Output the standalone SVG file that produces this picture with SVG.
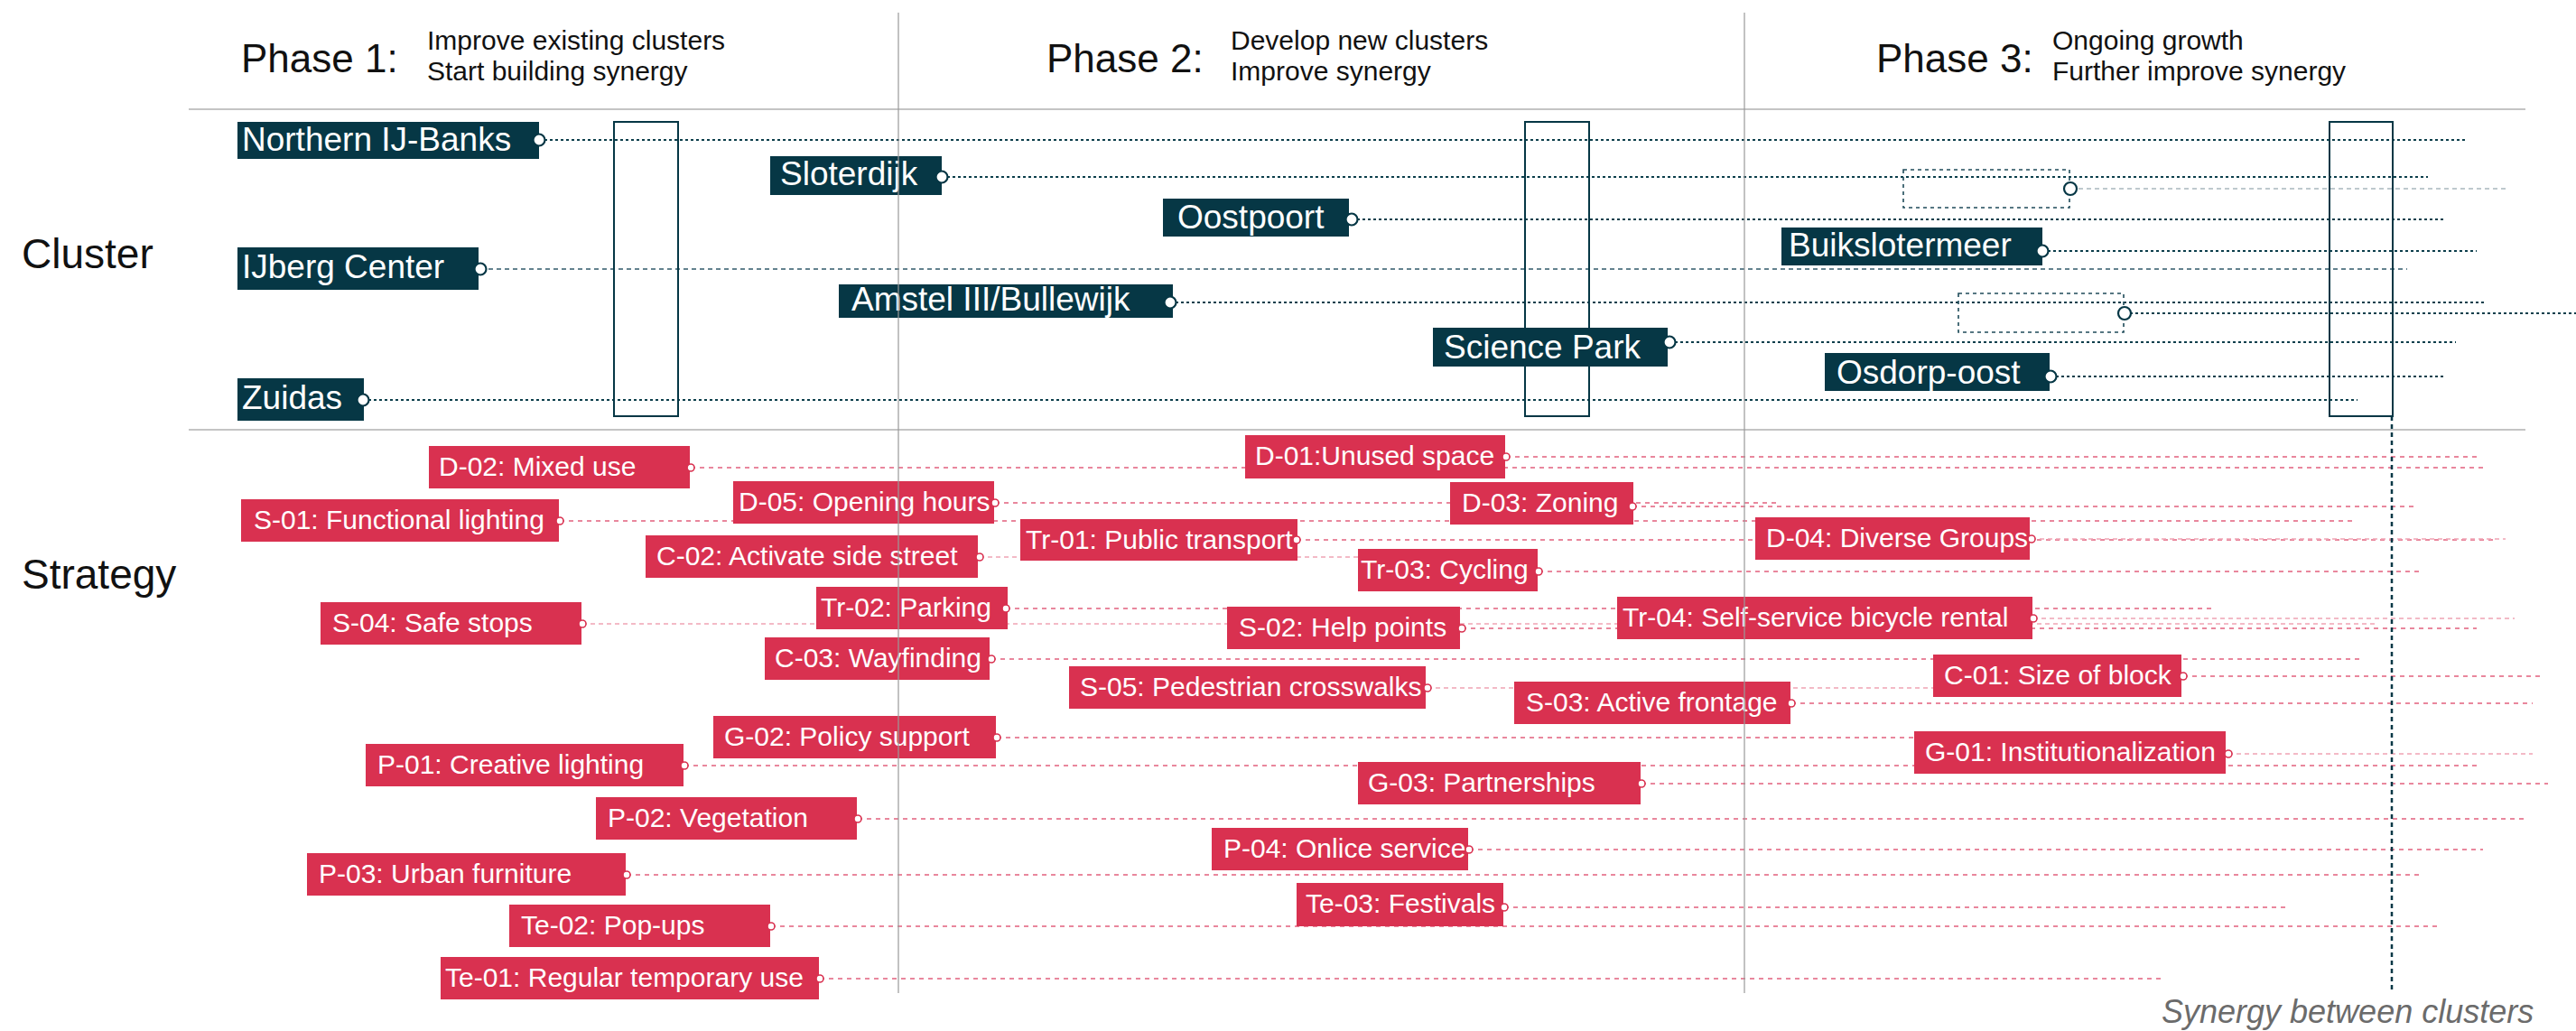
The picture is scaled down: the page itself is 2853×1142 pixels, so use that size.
<svg xmlns="http://www.w3.org/2000/svg" width="2853" height="1142" viewBox="0 0 2853 1142">
  <style>
    text { font-family: "Liberation Sans", Arial, sans-serif; }
    .bg { fill: #ffffff; }
    .rule { stroke: #c4c4c4; stroke-width: 2; }
    .divider { stroke: #9a9a9a; stroke-width: 1.5; opacity: 0.8; }
    .phase { font-size: 44px; fill: #111; }
    .sub { font-size: 30px; fill: #111; }
    .axis { font-size: 46px; fill: #111; }
    .note { font-size: 36px; font-style: italic; fill: #6b6b6b; }
    .cl rect { fill: #063745; }
    .cl text { fill: #ffffff; font-size: 37px; }
    .st rect { fill: #d93150; }
    .st text { fill: #ffffff; font-size: 30px; }
    .pc { fill: #ffffff; stroke: #063745; stroke-width: 2.2; }
    .ps { fill: #ffffff; stroke: #d93150; stroke-width: 1.6; }
    .lc { stroke: #0d3f4c; stroke-width: 2; stroke-dasharray: 3 3; fill: none; }
    .lc2 { stroke: #31596a; stroke-width: 1.5; stroke-dasharray: 5 4; fill: none; }
    .lc3 { stroke: #a9b8bd; stroke-width: 1.5; stroke-dasharray: 5 4; fill: none; }
    .ls { stroke: #e2607d; stroke-width: 1.5; stroke-dasharray: 5 5; fill: none; }
    .ls2 { stroke: #f0a4b4; stroke-width: 1.5; stroke-dasharray: 5 4; fill: none; }
    .syn { fill: none; stroke: #063745; stroke-width: 2; }
    .ghost { fill: none; stroke: #1f4b59; stroke-width: 1.6; stroke-dasharray: 4 4; }
    .synline { stroke: #063745; stroke-width: 2.5; stroke-dasharray: 5 4; }
  </style>

  <rect class="bg" x="0" y="0" width="2853" height="1142"/>

  <!-- header -->
  <g id="header">
    <text class="phase" x="267" y="80">Phase 1:</text>
    <text class="sub" x="473" y="55">Improve existing clusters</text>
    <text class="sub" x="473" y="89">Start building synergy</text>
    <text class="phase" x="1159" y="80">Phase 2:</text>
    <text class="sub" x="1363" y="55">Develop new clusters</text>
    <text class="sub" x="1363" y="89">Improve synergy</text>
    <text class="phase" x="2078" y="80">Phase 3:</text>
    <text class="sub" x="2273" y="55">Ongoing growth</text>
    <text class="sub" x="2273" y="89">Further improve synergy</text>
  </g>

  <g id="rows">
    <line class="rule" x1="209" y1="121" x2="2797" y2="121"/>
    <line class="rule" x1="209" y1="476" x2="2797" y2="476"/>
    <text class="axis" x="24" y="297">Cluster</text>
    <text class="axis" x="24" y="652">Strategy</text>
  </g>

  <!-- connectors: cluster and strategy timelines -->
  <g id="connectors">
    <line class="lc" x1="597" y1="155" x2="2733" y2="155"/>
    <line class="lc2" x1="532" y1="298" x2="2666" y2="298"/>
    <line class="lc" x1="402" y1="443" x2="2611" y2="443"/>
    <line class="lc" x1="1043" y1="196" x2="2689" y2="196"/>
    <line class="lc" x1="1497" y1="243" x2="2706" y2="243"/>
    <line class="lc" x1="1296" y1="335" x2="2753" y2="335"/>
    <line class="lc" x1="1849" y1="379" x2="2720" y2="379"/>
    <line class="lc" x1="2262" y1="278" x2="2743" y2="278"/>
    <line class="lc" x1="2271" y1="417" x2="2706" y2="417"/>
    <line class="lc3" x1="2293" y1="209" x2="2778" y2="209"/>
    <line class="lc" x1="2353" y1="347" x2="2853" y2="347"/>

    <line class="ls" x1="765" y1="518" x2="2754" y2="518"/>
    <line class="ls" x1="620" y1="577" x2="2609" y2="577"/>
    <line class="ls2" x1="645" y1="691" x2="2633" y2="691"/>
    <line class="ls" x1="758" y1="848" x2="2748" y2="848"/>
    <line class="ls" x1="950" y1="907" x2="2797" y2="907"/>
    <line class="ls" x1="694" y1="969" x2="2684" y2="969"/>
    <line class="ls" x1="854" y1="1026" x2="2701" y2="1026"/>
    <line class="ls" x1="908" y1="1084" x2="2398" y2="1084"/>
    <line class="ls" x1="1102" y1="557" x2="1969" y2="557"/>
    <line class="ls2" x1="1085" y1="617" x2="1600" y2="617"/>
    <line class="ls" x1="1114" y1="674" x2="2452" y2="674"/>
    <line class="ls" x1="1098" y1="730" x2="2615" y2="730"/>
    <line class="ls" x1="1104" y1="817" x2="2200" y2="817"/>
    <line class="ls" x1="1668" y1="506" x2="2744" y2="506"/>
    <line class="ls" x1="1808" y1="561" x2="2675" y2="561"/>
    <line class="ls" x1="1436" y1="598" x2="2763" y2="598"/>
    <line class="ls" x1="1704" y1="633" x2="2683" y2="633"/>
    <line class="ls" x1="1619" y1="696" x2="2743" y2="696"/>
    <line class="ls2" x1="1581" y1="762" x2="2250" y2="762"/>
    <line class="ls" x1="1984" y1="779" x2="2805" y2="779"/>
    <line class="ls" x1="1818" y1="868" x2="2822" y2="868"/>
    <line class="ls" x1="1627" y1="941" x2="2750" y2="941"/>
    <line class="ls" x1="1666" y1="1005" x2="2534" y2="1005"/>
    <line class="ls2" x1="2250" y1="597" x2="2775" y2="597"/>
    <line class="ls2" x1="2252" y1="685" x2="2785" y2="685"/>
    <line class="ls" x1="2418" y1="749" x2="2813" y2="749"/>
    <line class="ls2" x1="2468" y1="835" x2="2805" y2="835"/>

    <line class="synline" x1="2649" y1="461" x2="2649" y2="1097"/>
  </g>

  <!-- synergy windows per phase -->
  <g id="synergy">
    <rect class="syn" x="680" y="135" width="71" height="326"/>
    <rect class="syn" x="1689" y="135" width="71" height="326"/>
    <rect class="syn" x="2580" y="135" width="70" height="326"/>
  </g>

  <!-- clusters -->
  <g id="northern-ij-banks" class="cl">
    <rect x="263" y="135" width="334" height="41"/>
    <text x="268" y="167">Northern IJ-Banks</text>
    <circle class="pc" cx="597" cy="155" r="6.5"/>
  </g>
  <g id="ijberg-center" class="cl">
    <rect x="263" y="274" width="267" height="47"/>
    <text x="268" y="308">IJberg Center</text>
    <circle class="pc" cx="532" cy="298" r="6.5"/>
  </g>
  <g id="zuidas" class="cl">
    <rect x="263" y="419" width="140" height="47"/>
    <text x="268" y="453">Zuidas</text>
    <circle class="pc" cx="402" cy="443" r="6.5"/>
  </g>
  <g id="sloterdijk" class="cl">
    <rect x="853" y="173" width="190" height="43"/>
    <text x="864" y="205">Sloterdijk</text>
    <circle class="pc" cx="1043" cy="196" r="6.5"/>
  </g>
  <g id="oostpoort" class="cl">
    <rect x="1288" y="220" width="206" height="42"/>
    <text x="1304" y="253">Oostpoort</text>
    <circle class="pc" cx="1497" cy="243" r="6.5"/>
  </g>
  <g id="amstel-iii-bullewijk" class="cl">
    <rect x="929" y="315" width="370" height="37"/>
    <text x="943" y="344">Amstel III/Bullewijk</text>
    <circle class="pc" cx="1296" cy="335" r="6.5"/>
  </g>
  <g id="science-park" class="cl">
    <rect x="1587" y="363" width="260" height="43"/>
    <text x="1599" y="397">Science Park</text>
    <circle class="pc" cx="1849" cy="379" r="6.5"/>
  </g>
  <g id="buikslotermeer" class="cl">
    <rect x="1973" y="252" width="289" height="42"/>
    <text x="1981" y="284">Buikslotermeer</text>
    <circle class="pc" cx="2262" cy="278" r="6.5"/>
  </g>
  <g id="osdorp-oost" class="cl">
    <rect x="2021" y="391" width="249" height="42"/>
    <text x="2034" y="425">Osdorp-oost</text>
    <circle class="pc" cx="2271" cy="417" r="6.5"/>
  </g>
  <g id="future-cluster-a">
    <rect class="ghost" x="2108" y="188" width="184" height="42"/>
    <circle class="pc" cx="2293" cy="209" r="7"/>
  </g>
  <g id="future-cluster-b">
    <rect class="ghost" x="2169" y="325" width="183" height="43"/>
    <circle class="pc" cx="2353" cy="347" r="7"/>
  </g>

  <!-- strategies -->
  <g id="d-02" class="st"><rect x="475" y="494" width="289" height="47"/><text x="486" y="527">D-02: Mixed use</text><circle class="ps" cx="765" cy="518" r="4"/></g>
  <g id="s-01" class="st"><rect x="267" y="553" width="352" height="47"/><text x="281" y="586">S-01: Functional lighting</text><circle class="ps" cx="620" cy="577" r="4"/></g>
  <g id="s-04" class="st"><rect x="355" y="667" width="289" height="47"/><text x="368" y="700">S-04: Safe stops</text><circle class="ps" cx="645" cy="691" r="4"/></g>
  <g id="p-01" class="st"><rect x="405" y="824" width="352" height="47"/><text x="418" y="857">P-01: Creative lighting</text><circle class="ps" cx="758" cy="848" r="4"/></g>
  <g id="p-02" class="st"><rect x="660" y="883" width="289" height="47"/><text x="673" y="916">P-02: Vegetation</text><circle class="ps" cx="950" cy="907" r="4"/></g>
  <g id="p-03" class="st"><rect x="340" y="945" width="353" height="47"/><text x="353" y="978">P-03: Urban furniture</text><circle class="ps" cx="694" cy="969" r="4"/></g>
  <g id="te-02" class="st"><rect x="564" y="1002" width="289" height="47"/><text x="577" y="1035">Te-02: Pop-ups</text><circle class="ps" cx="854" cy="1026" r="4"/></g>
  <g id="te-01" class="st"><rect x="488" y="1060" width="419" height="47"/><text x="493" y="1093">Te-01: Regular temporary use</text><circle class="ps" cx="908" cy="1084" r="4"/></g>
  <g id="d-05" class="st"><rect x="812" y="533" width="289" height="47"/><text x="818" y="566">D-05: Opening hours</text><circle class="ps" cx="1102" cy="557" r="4"/></g>
  <g id="c-02" class="st"><rect x="715" y="593" width="368" height="47"/><text x="727" y="626">C-02: Activate side street</text><circle class="ps" cx="1085" cy="617" r="4"/></g>
  <g id="tr-02" class="st"><rect x="904" y="650" width="212" height="47"/><text x="909" y="683">Tr-02: Parking</text><circle class="ps" cx="1114" cy="674" r="4"/></g>
  <g id="c-03" class="st"><rect x="847" y="706" width="249" height="47"/><text x="858" y="739">C-03: Wayfinding</text><circle class="ps" cx="1098" cy="730" r="4"/></g>
  <g id="g-02" class="st"><rect x="790" y="793" width="313" height="47"/><text x="802" y="826">G-02: Policy support</text><circle class="ps" cx="1104" cy="817" r="4"/></g>
  <g id="d-01" class="st"><rect x="1379" y="482" width="288" height="48"/><text x="1390" y="515">D-01:Unused space</text><circle class="ps" cx="1668" cy="506" r="4"/></g>
  <g id="d-03" class="st"><rect x="1606" y="534" width="203" height="47"/><text x="1619" y="567">D-03: Zoning</text><circle class="ps" cx="1808" cy="561" r="4"/></g>
  <g id="tr-01" class="st"><rect x="1130" y="575" width="307" height="46"/><text x="1136" y="608">Tr-01: Public transport</text><circle class="ps" cx="1436" cy="598" r="4"/></g>
  <g id="tr-03" class="st"><rect x="1504" y="608" width="199" height="47"/><text x="1507" y="641">Tr-03: Cycling</text><circle class="ps" cx="1704" cy="633" r="4"/></g>
  <g id="s-02" class="st"><rect x="1359" y="672" width="258" height="47"/><text x="1372" y="705">S-02: Help points</text><circle class="ps" cx="1619" cy="696" r="4"/></g>
  <g id="s-05" class="st"><rect x="1184" y="738" width="395" height="47"/><text x="1196" y="771">S-05: Pedestrian crosswalks</text><circle class="ps" cx="1581" cy="762" r="4"/></g>
  <g id="s-03" class="st"><rect x="1677" y="755" width="306" height="47"/><text x="1690" y="788">S-03: Active frontage</text><circle class="ps" cx="1984" cy="779" r="4"/></g>
  <g id="g-03" class="st"><rect x="1504" y="844" width="313" height="47"/><text x="1515" y="877">G-03: Partnerships</text><circle class="ps" cx="1818" cy="868" r="4"/></g>
  <g id="p-04" class="st"><rect x="1342" y="917" width="284" height="47"/><text x="1355" y="950">P-04: Onlice service</text><circle class="ps" cx="1627" cy="941" r="4"/></g>
  <g id="te-03" class="st"><rect x="1436" y="978" width="229" height="48"/><text x="1446" y="1011">Te-03: Festivals</text><circle class="ps" cx="1666" cy="1005" r="4"/></g>
  <g id="d-04" class="st"><rect x="1944" y="573" width="304" height="47"/><text x="1956" y="606">D-04: Diverse Groups</text><circle class="ps" cx="2250" cy="597" r="4"/></g>
  <g id="tr-04" class="st"><rect x="1791" y="661" width="460" height="47"/><text x="1797" y="694">Tr-04: Self-service bicycle rental</text><circle class="ps" cx="2252" cy="685" r="4"/></g>
  <g id="c-01" class="st"><rect x="2141" y="725" width="275" height="47"/><text x="2153" y="758">C-01: Size of block</text><circle class="ps" cx="2418" cy="749" r="4"/></g>
  <g id="g-01" class="st"><rect x="2120" y="810" width="345" height="47"/><text x="2132" y="843">G-01: Institutionalization</text><circle class="ps" cx="2468" cy="835" r="4"/></g>

  <!-- phase dividers, drawn over everything -->
  <g id="phase-dividers">
    <line class="divider" x1="995" y1="14" x2="995" y2="1100"/>
    <line class="divider" x1="1932" y1="14" x2="1932" y2="1100"/>
  </g>

  <text class="note" x="2394" y="1133">Synergy between clusters</text>
</svg>
